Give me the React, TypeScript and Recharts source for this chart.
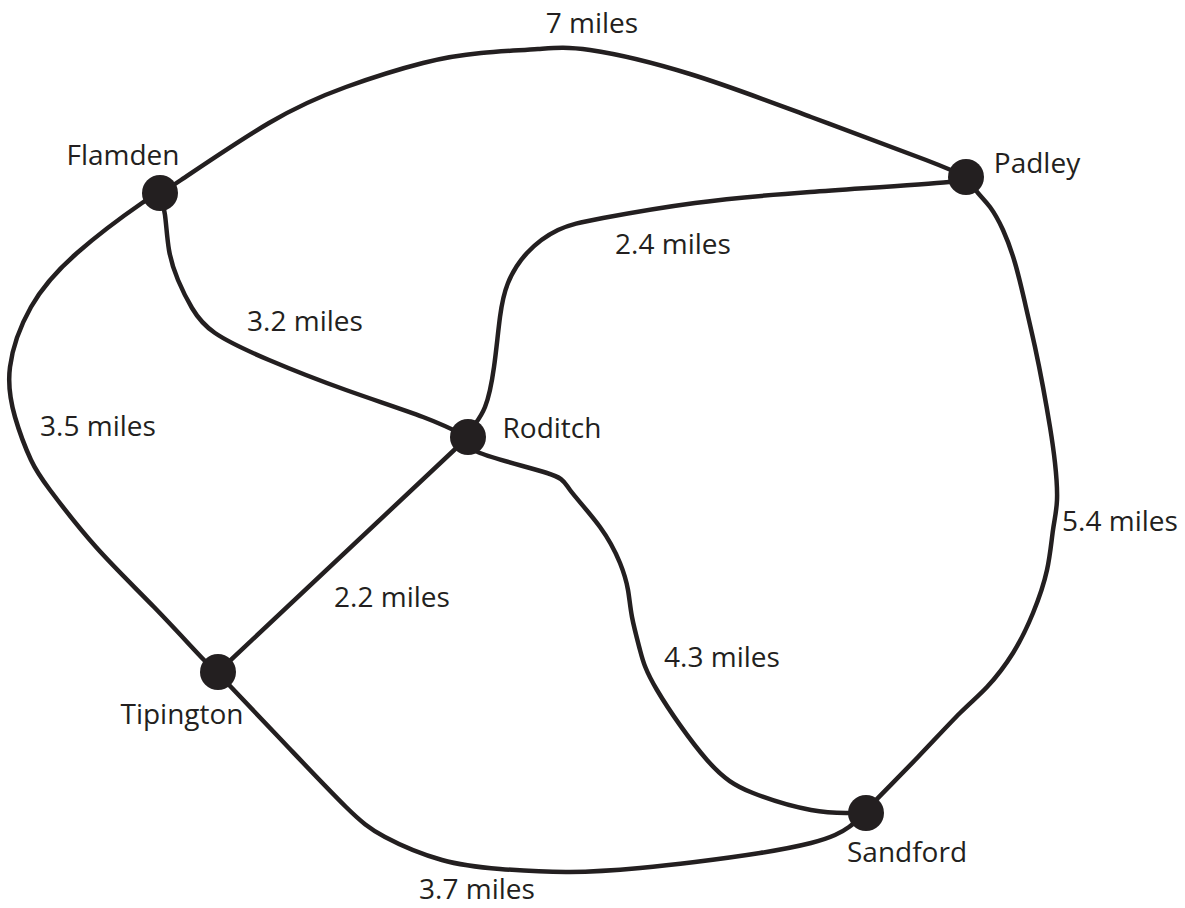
import { ComposedChart, Line, Scatter, XAxis, YAxis } from "recharts";

// Map of the road network: towns, roads between them and the road lengths.
// Coordinates are in a plain 0..1185 x 0..908 map space (y grows downwards).

const INK = "#231f20";
const FONT = "'Open Sans', 'Noto Sans', sans-serif";

const towns = ["Flamden", "Padley", "Roditch", "Tipington", "Sandford"];
const townX = [160, 966, 468, 218, 866];
const townY = [193, 177, 437, 672, 813];

// where each town name sits (centre x, baseline y)
const townLabelX = [123, 1037, 552, 182, 907];
const townLabelY = [165, 173, 438, 724, 862];

const roadLengths = ["7 miles", "2.4 miles", "3.2 miles", "3.5 miles", "5.4 miles", "2.2 miles", "4.3 miles", "3.7 miles"];
const roadLabelX = [592, 673, 305, 98, 1120, 392, 722, 477];
const roadLabelY = [33, 254, 331, 436, 531, 607, 667, 899];

// road traces
const flamdenPadley = [
  [160, 193], [181, 180], [269, 123], [346, 87], [423, 63], [481, 53], [538, 49],
  [590, 50], [690, 74], [811, 117], [926, 160], [966, 177],
];
const padleyRoditch = [
  [966, 177], [949, 182], [810, 192], [695, 203], [603, 218], [558, 230], [527, 253],
  [508, 283], [500, 317], [494, 367], [485, 407], [473, 427], [468, 437],
];
const flamdenRoditch = [
  [160, 193], [165, 215], [169, 250], [178, 280], [192, 308], [215, 333], [269, 360],
  [346, 390], [423, 417], [468, 437],
];
const flamdenTipington = [
  [160, 193], [142, 203], [77, 253], [31, 307], [10, 367], [15, 417], [31, 460],
  [50, 490], [96, 547], [154, 607], [204, 660], [218, 672],
];
const padleySandford = [
  [966, 177], [978, 193], [990, 207], [1003, 230], [1015, 263], [1025, 303],
  [1035, 347], [1043, 387], [1050, 427], [1055, 463], [1057, 500], [1053, 530],
  [1047, 570], [1033, 613], [1013, 653], [987, 687], [960, 713], [918, 757],
  [876, 800], [866, 812],
];
const roditchTipington = [[468, 437], [218, 672]];
const roditchSandford = [
  [468, 437], [480, 453], [547, 473], [570, 490], [600, 527], [620, 563], [628, 590],
  [632, 617], [640, 650], [657, 690], [707, 760], [753, 793], [811, 810], [849, 813],
  [866, 813],
];
const tipingtonSandford = [
  [218, 672], [231, 687], [288, 747], [346, 807], [385, 837], [442, 860], [500, 869],
  [570, 872], [640, 868], [695, 862], [760, 853], [811, 843], [835, 835], [849, 827],
  [866, 813],
];

const roads = [
  flamdenPadley, padleyRoditch, flamdenRoditch, flamdenTipington,
  padleySandford, roditchTipington, roditchSandford, tipingtonSandford,
];

const toPoints = (pts: number[][]) => pts.map(([x, y]) => ({ x, y }));

const townPoints = towns.map((name, i) => ({ name, x: townX[i], y: townY[i] }));
const labelPoints = [
  ...towns.map((label, i) => ({ label, x: townLabelX[i], y: townLabelY[i] })),
  ...roadLengths.map((label, i) => ({ label, x: roadLabelX[i], y: roadLabelY[i] })),
];

function TownDot(props: any) {
  const { cx, cy } = props;
  if (cx == null || cy == null) return null;
  return <circle cx={cx} cy={cy} r={18} fill={INK} />;
}

function MapText(props: any) {
  const { cx, cy, payload } = props;
  if (cx == null || cy == null) return null;
  return (
    <text x={cx} y={cy} textAnchor="middle" fontFamily={FONT} fontSize={28} fill={INK}>
      {payload?.label ?? props.label}
    </text>
  );
}

export default function App() {
  return (
    <div style={{ position: "absolute", left: 0, top: 0, background: "#fff" }}>
      <ComposedChart width={1185} height={908} margin={{ top: 0, right: 0, bottom: 0, left: 0 }}>
        <XAxis type="number" dataKey="x" domain={[0, 1185]} hide allowDataOverflow />
        <YAxis type="number" dataKey="y" domain={[0, 908]} reversed hide allowDataOverflow />
        {roads.map((pts, i) => (
          <Line
            key={i}
            data={toPoints(pts)}
            dataKey="y"
            type="natural"
            stroke={INK}
            strokeWidth={4.5}
            strokeLinecap="round"
            dot={false}
            activeDot={false}
            isAnimationActive={false}
          />
        ))}
        <Scatter data={townPoints} shape={TownDot} isAnimationActive={false} />
        <Scatter data={labelPoints} shape={MapText} isAnimationActive={false} />
      </ComposedChart>
    </div>
  );
}
